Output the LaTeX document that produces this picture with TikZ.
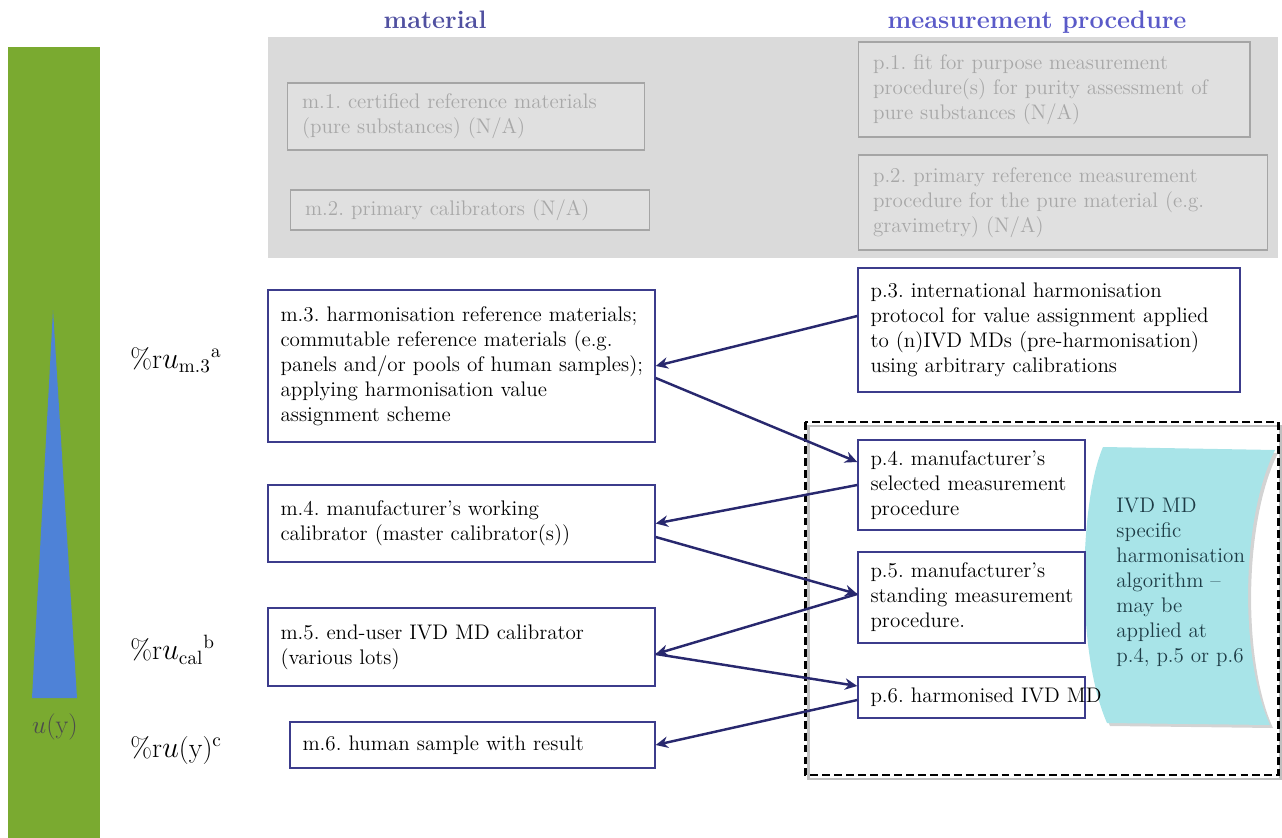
\documentclass[tikz,border=0pt]{standalone}
\usepackage{tikz}
\usetikzlibrary{arrows.meta,shadows}

\definecolor{boxblue}{RGB}{60,60,140}
\definecolor{arrowblue}{RGB}{40,40,110}
\definecolor{titleblue}{RGB}{80,80,160}
\definecolor{titlebluelight}{RGB}{90,90,200}
\definecolor{barGreen}{RGB}{122,170,48}
\definecolor{wedgeBlue}{RGB}{78,130,215}
\definecolor{greyBg}{RGB}{218,218,218}
\definecolor{greyBox}{RGB}{224,224,224}
\definecolor{greyLine}{RGB}{165,165,165}
\definecolor{greyText}{RGB}{168,168,168}
\definecolor{algoCyan}{RGB}{168,228,232}
\definecolor{algoText}{RGB}{30,60,70}

\frenchspacing
\hyphenpenalty=10000
\exhyphenpenalty=10000

\tikzset{
  txt/.style={font=\fontsize{12}{14.2}\selectfont},
  mbox/.style={txt,draw=boxblue,line width=0.85pt,fill=white,align=left,inner xsep=0.25cm,inner ysep=0pt},
  gbox/.style={txt,draw=greyLine,line width=0.6pt,fill=greyBox,text=greyText,align=left,inner xsep=0.3cm,inner ysep=0pt},
  link/.style={arrowblue,line width=1.4pt,-{Stealth[length=7pt,width=6.5pt]}},
  ulabel/.style={font=\fontsize{16}{18}\selectfont,anchor=west,inner sep=0pt},
  title/.style={font=\bfseries\fontsize{14.4}{16}\selectfont},
  frame/.style={line width=1.7pt,dash pattern=on 4.5pt off 2.3pt}
}

\begin{document}
\begin{tikzpicture}[x=0.02cm,y=-0.02cm]
	\useasboundingbox (0,0) rectangle (1282,838);

	% grey (not applicable) part
	\fill[greyBg] (268,37) rectangle (1278,258);
	\node[gbox,minimum width=7.16cm,text width=6.56cm,minimum height=1.34cm] (m1) at (466,116.5) {m.1. certified reference materials\\ (pure substances) (N/A)};
	\node[gbox,minimum width=7.2cm,text width=6.6cm,minimum height=0.8cm]   (m2) at (470,210)   {m.2. primary calibrators (N/A)};
	\node[gbox,minimum width=7.84cm,text width=7.24cm,minimum height=1.9cm] (p1) at (1054,89.5) {p.1. fit for purpose measurement\\ procedure(s) for purity assessment of\\ pure substances (N/A)};
	\node[gbox,minimum width=8.2cm,text width=7.6cm,minimum height=1.9cm]   (p2) at (1063,202.5) {p.2. primary reference measurement\\ procedure for the pure material (e.g.\\ gravimetry) (N/A)};

	\node[title,text=titleblue]      (tmat)  at (435,20)  {material};
	\node[title,text=titlebluelight] (tproc) at (1037,22) {measurement procedure};

	% uncertainty bar
	\fill[barGreen] (8,47) rectangle (100,838);
	\fill[wedgeBlue] (53,310) -- (77,698) -- (32,698) -- cycle;
	\node[font=\fontsize{15}{18}\selectfont,text=black!70] (uy) at (55,727) {$u$(y)};

	\node[ulabel] (rum3) at (130,360) {\%r$u_{\mathrm{m.3}}{}^{\mathrm{a}}$};
	\node[ulabel] (rucal) at (130,650) {\%r$u_{\mathrm{cal}}{}^{\mathrm{b}}$};
	\node[ulabel] (ruy) at (130,750) {\%r$u$(y)$^{\mathrm{c}}$};

	% manufacturer part
	\draw[black!25,line width=1.7pt] (808,426) rectangle (1280,779);
	\draw[frame] (805,422) rectangle (1278,775);
	\fill[algoCyan,drop shadow={opacity=0.35,shadow xshift=0.06cm,shadow yshift=-0.06cm}]
		(1103,447) .. controls (1080,500) and (1075,650) .. (1107,723)
		-- (1270,725) .. controls (1240,660) and (1240,520) .. (1275,450) -- cycle;
	\node[txt,text=algoText,align=left,anchor=west,inner sep=0pt] (algo) at (1116,582)
		{IVD MD\\ specific\\ harmonisation\\ algorithm --\\ may be\\ applied at\\ p.4, p.5 or p.6};

	\node[mbox,minimum width=7.74cm,text width=7.24cm,minimum height=3.04cm] (m3) at (461.5,366)
		{\mbox{m.3. harmonisation reference materials;}\\ commutable reference materials (e.g.\\ \mbox{panels and/or pools of human samples);}\\ applying harmonisation value\\ assignment scheme};
	\node[mbox,minimum width=7.74cm,text width=7.24cm,minimum height=1.54cm] (m4) at (461.5,523.5)
		{m.4. manufacturer's working\\ calibrator (master calibrator(s))};
	\node[mbox,minimum width=7.74cm,text width=7.24cm,minimum height=1.56cm] (m5) at (461.5,647)
		{m.5. end-user IVD MD calibrator\\ (various lots)};
	\node[mbox,minimum width=7.3cm,text width=6.8cm,minimum height=0.92cm]   (m6) at (472.5,745)
		{m.6. human sample with result};

	\node[mbox,minimum width=7.64cm,text width=7.14cm,minimum height=2.48cm] (p3) at (1049,330)
		{p.3. international harmonisation\\ \mbox{protocol for value assignment applied}\\ to (n)IVD MDs (pre-harmonisation)\\ using arbitrary calibrations};
	\node[mbox,minimum width=4.54cm,text width=4.04cm,minimum height=1.8cm]  (p4) at (971.5,485)
		{p.4. manufacturer's\\ \mbox{selected measurement}\\ procedure};
	\node[mbox,minimum width=4.54cm,text width=4.04cm,minimum height=1.82cm] (p5) at (971.5,597.5)
		{p.5. manufacturer's\\ \mbox{standing measurement}\\ procedure.};
	\node[mbox,minimum width=4.54cm,text width=4.04cm,minimum height=0.82cm] (p6) at (971.5,697.5)
		{\mbox{p.6. harmonised IVD MD}};

	\draw[link] ([yshift=0.28cm]p3.west)  -- (m3.east);
	\draw[link] ([yshift=-0.24cm]m3.east) -- ([yshift=0.46cm]p4.west);
	\draw[link] (p4.west)                 -- (m4.east);
	\draw[link] ([yshift=-0.27cm]m4.east) -- ([yshift=0.07cm]p5.west);
	\draw[link] ([yshift=0.07cm]p5.west)  -- ([yshift=-0.14cm]m5.east);
	\draw[link] ([yshift=-0.14cm]m5.east) -- ([yshift=0.23cm]p6.west);
	\draw[link] ([yshift=-0.05cm]p6.west) -- (m6.east);
\end{tikzpicture}
\end{document}
